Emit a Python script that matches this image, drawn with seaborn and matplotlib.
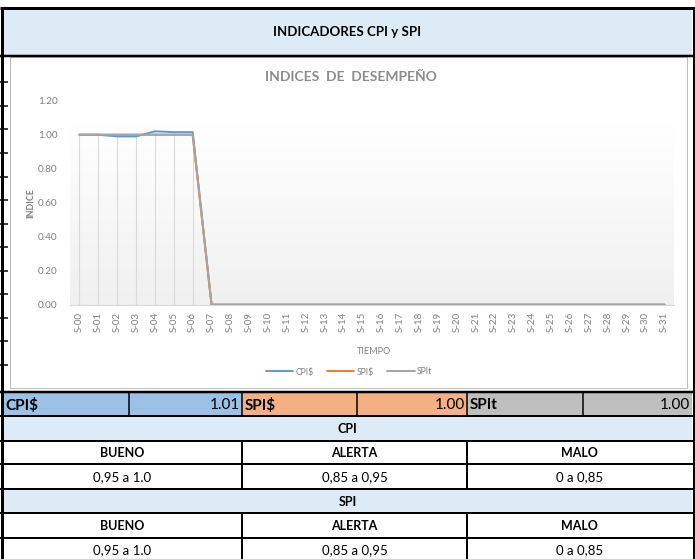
import matplotlib
matplotlib.use("Agg")
import matplotlib.pyplot as plt
import seaborn as sns
import pandas as pd
import numpy as np
from matplotlib.patches import Rectangle
from matplotlib.lines import Line2D
from matplotlib.colors import LinearSegmentedColormap

# ---------------- data ----------------
weeks = ["S-00", "S-01", "S-02", "S-03", "S-04", "S-05", "S-06", "S-07",
         "S-08", "S-09", "S-10", "S-11", "S-12", "S-13", "S-14", "S-15",
         "S-16", "S-17", "S-18", "S-19", "S-20", "S-21", "S-22", "S-23",
         "S-24", "S-25", "S-26", "S-27", "S-28", "S-29", "S-30", "S-31"]
cpi = [1.00, 1.00, 0.99, 0.99, 1.02, 1.015, 1.015, 0, 0, 0, 0, 0, 0, 0, 0, 0,
       0, 0, 0, 0, 0, 0, 0, 0, 0, 0, 0, 0, 0, 0, 0, 0]
spi = [1.00, 1.00, 1.00, 1.00, 1.00, 1.00, 1.00, 0, 0, 0, 0, 0, 0, 0, 0, 0,
       0, 0, 0, 0, 0, 0, 0, 0, 0, 0, 0, 0, 0, 0, 0, 0]
spit = [1.00, 1.00, 1.00, 1.00, 1.00, 1.00, 1.00, 0, 0, 0, 0, 0, 0, 0, 0, 0,
        0, 0, 0, 0, 0, 0, 0, 0, 0, 0, 0, 0, 0, 0, 0, 0]
series_names = ["CPI$", "SPI$", "SPIt"]
series_colors = ["#5B9BD5", "#ED7D31", "#A5A5A5"]
y_ticks = [0.0, 0.2, 0.4, 0.6, 0.8, 1.0, 1.2]

summary_labels = ["CPI$", "SPI$", "SPIt"]
summary_values = ["1.01", "1.00", "1.00"]
summary_colors = ["#9BC2E6", "#F4B084", "#BFBFBF"]
levels = ["BUENO", "ALERTA", "MALO"]
ranges = ["0,95 a 1.0", "0,85 a 0,95", "0 a 0,85"]

# ---------------- setup ----------------
sns.set_theme(style="white")
plt.rcParams["font.family"] = ["Lato", "DejaVu Sans"]

W, H = 695, 559
fig = plt.figure(figsize=(W / 100, H / 100), dpi=100)
fig.patch.set_facecolor("white")

bg = fig.add_axes([0, 0, 1, 1], zorder=0)
bg.set_xlim(0, W)
bg.set_ylim(H, 0)
bg.axis("off")

PX = 0.72
BLACK = "#000000"
HEAD = "#DDEBF7"

def rect(x0, y0, x1, y1, fc, ec="none", lw=0, z=1):
    bg.add_patch(Rectangle((x0, y0), x1 - x0, y1 - y0, facecolor=fc,
                           edgecolor=ec, linewidth=lw, zorder=z))

def hline(y, x0, x1, lw=2, c=BLACK, z=3):
    bg.plot([x0, x1], [y, y], color=c, lw=lw * PX, zorder=z,
            solid_capstyle="butt")

def vline(x, y0, y1, lw=2, c=BLACK, z=3):
    bg.plot([x, x], [y0, y1], color=c, lw=lw * PX, zorder=z,
            solid_capstyle="butt")

# title band
rect(3, 9, 692, 55, HEAD)
hline(8, 0, 695, lw=3)
hline(56, 0, 695, lw=2.5)
bg.text(347.5, 32, "INDICADORES CPI y SPI", ha="center", va="center",
        fontsize=9.5, fontweight="bold", color=BLACK, zorder=4)

vline(1.5, 7, 559, lw=3)
vline(693.5, 7, 559, lw=3)

for yy in [82, 105.5, 129, 153, 176.5, 200, 223.5, 247, 270.5, 294, 317.5,
           341, 364.5]:
    hline(yy, 0, 8, lw=1.5)

rect(10, 57, 687, 388, "white", ec="#BFBFBF", lw=1 * PX, z=2)

# summary row
row_top, row_bot = 393, 416
xs = [3, 129, 242, 357, 467, 583, 692]
for i in range(3):
    rect(xs[2 * i], row_top, xs[2 * i + 2], row_bot, summary_colors[i])
    bg.text(xs[2 * i] + 2.5, (row_top + row_bot) / 2 + 0.5, summary_labels[i],
            ha="left", va="center", fontsize=11, fontweight="bold",
            color=BLACK, zorder=4)
    bg.text(xs[2 * i + 2] - 1.5, (row_top + row_bot) / 2 + 0.5,
            summary_values[i], ha="right", va="center", fontsize=11,
            color=BLACK, zorder=4)
hline(392, 0, 695, lw=2.5)
for x in xs[1:-1]:
    vline(x, row_top, row_bot, lw=1.5)

# lower table
rows = [416, 441, 464, 489, 513, 538, 562]
cols = [3, 242, 467, 692]
headers = ["CPI", "SPI"]
for k in range(2):
    yh0, yh1 = rows[3 * k], rows[3 * k + 1]
    rect(3, yh0, 692, yh1, HEAD)
    bg.text(347.5, (yh0 + yh1) / 2 + 0.5, headers[k], ha="center",
            va="center", fontsize=9, fontweight="bold", color=BLACK, zorder=4)
    yl0, yl1 = rows[3 * k + 1], rows[3 * k + 2]
    yr0, yr1 = rows[3 * k + 2], rows[3 * k + 3]
    for j in range(3):
        cx = (cols[j] + cols[j + 1]) / 2
        bg.text(cx, (yl0 + yl1) / 2 + 0.5, levels[j], ha="center",
                va="center", fontsize=9, fontweight="bold", color=BLACK,
                zorder=4)
        bg.text(cx, (yr0 + yr1) / 2 + 0.5, ranges[j], ha="center",
                va="center", fontsize=9.5, color=BLACK, zorder=4)
    for x in cols[1:-1]:
        vline(x, yl0, yr1, lw=2)
for y in rows[:-1]:
    hline(y, 0, 695, lw=2)

# ---------------- chart ----------------
ax_left, ax_right = 70, 674
ax_top, ax_bot = 100.7, 304.7
ax = fig.add_axes([ax_left / W, 1 - ax_bot / H, (ax_right - ax_left) / W,
                   (ax_bot - ax_top) / H], zorder=2)
ax.set_facecolor("none")

n = len(weeks)
xpos = list(range(n))
df = pd.DataFrame({
    "pos": xpos * 3,
    "valor": cpi + spi + spit,
    "serie": [series_names[0]] * n + [series_names[1]] * n + [series_names[2]] * n,
})

grad = np.linspace(0, 1, 256).reshape(-1, 1)
cmap = LinearSegmentedColormap.from_list("g", ["#FFFFFF", "#F0F0F0"])
ax.imshow(grad, aspect="auto", cmap=cmap, extent=(-0.5, n - 0.5, 0, 1.07),
          origin="upper", zorder=0)

tops = [max(a, b, c) for a, b, c in zip(cpi, spi, spit)]
ax.vlines([p for p, t in zip(xpos, tops) if t > 0],
          0, [t for t in tops if t > 0], color="#D9D9D9", lw=0.8, zorder=1)

sns.lineplot(data=df, x="pos", y="valor", hue="serie",
             hue_order=series_names, palette=series_colors, sort=False,
             linewidth=1.4, ax=ax, zorder=3, legend=False)

ax.set_xlim(-0.5, n - 0.5)
ax.set_ylim(0, 1.2)
ax.set_yticks(y_ticks)
ax.set_yticklabels([f"{v:.2f}" for v in y_ticks], fontsize=7.2,
                   color="#7F7F7F")
ax.set_xticks(xpos)
ax.set_xticklabels(weeks, rotation=90, fontsize=7, color="#7F7F7F")
ax.tick_params(axis="both", length=0)
ax.tick_params(axis="y", pad=9)
ax.tick_params(axis="x", pad=5)
for s in ["top", "right", "left"]:
    ax.spines[s].set_visible(False)
ax.spines["bottom"].set_color("#D9D9D9")
ax.spines["bottom"].set_linewidth(0.8)
ax.set_xlabel("")
ax.set_ylabel("")

fig.text(31 / W, 1 - 203 / H, "INDICE", rotation=90, ha="center",
         va="center", fontsize=6.3, fontweight="bold", color="#7F7F7F")
fig.text(374 / W, 1 - 351 / H, "TIEMPO", ha="center", va="center",
         fontsize=6.6, color="#7F7F7F")
fig.text(351 / W, 1 - 77 / H, "INDICES  DE  DESEMPEÑO", ha="center",
         va="center", fontsize=10, fontweight="bold", color="#8C8C8C")

handles = [Line2D([0], [0], color=c, lw=1.4) for c in series_colors]
leg = fig.legend(handles, series_names, loc="center",
                 bbox_to_anchor=(349 / W, 1 - 372 / H), ncol=3,
                 frameon=False, fontsize=6.2, handlelength=3.2,
                 handletextpad=0.3, columnspacing=1.5)
for t in leg.get_texts():
    t.set_color("#7F7F7F")

fig.savefig("out.png", dpi=100)
